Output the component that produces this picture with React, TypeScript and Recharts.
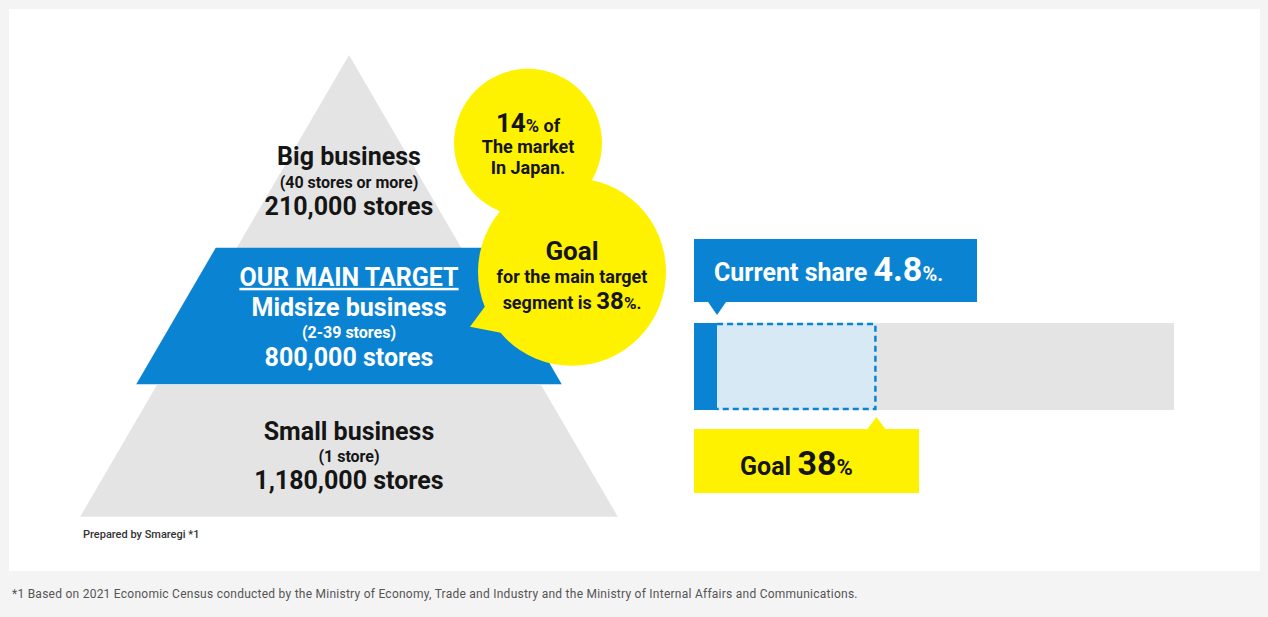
import { BarChart, Bar, XAxis, YAxis } from "recharts";

// pyramid tiers
const tierNames = ["Big business", "Midsize business", "Small business"];
const tierRanges = ["(40 stores or more)", "(2-39 stores)", "(1 store)"];
const tierStores = [210000, 800000, 1180000];

// share of the main target segment (%)
const japanMarketShare = 14;
const currentShare = 4.8;
const goalShare = 38;
const shareTotal = 100;

const BLUE = "#0a84d2";
const YELLOW = "#fff200";
const GRAY = "#e4e4e4";
const LIGHT_BLUE = "#d6e9f5";
const FONT = "Roboto, 'Noto Sans', sans-serif";

const pyramidData = tierNames.map((name, i) => ({
  name,
  range: tierRanges[i],
  stores: tierStores[i],
}));

const shareData = [
  { name: "share", current: currentShare, toGoal: goalShare - currentShare },
];

const fmt = (n: number) => n.toLocaleString("en-US");

// triangle geometry of the pyramid
const APEX_X = 349;
const APEX_Y = 55;
const BASE_Y = 517;
const BASE_HALF = 269;
const BLUE_SHIFT = 3; // blue band sits a little lower than its slot
const halfAt = (yy: number) => ((yy - APEX_Y) / (BASE_Y - APEX_Y)) * BASE_HALF;

const PyramidShape = (props: any) => {
  const { index, y, height, payload } = props;
  const cx = APEX_X;
  const top = y;
  const bottom = y + height;

  if (index === 0) {
    const hb = halfAt(bottom + 2);
    return (
      <g>
        <polygon points={`${cx},${APEX_Y} ${cx + hb},${bottom + 2} ${cx - hb},${bottom + 2}`} fill={GRAY} />
        <text x={cx} y={bottom - 81} textAnchor="middle" fontSize={25} fontWeight={700} fill="#151515">
          {payload.name}
        </text>
        <text x={cx} y={bottom - 58} textAnchor="middle" fontSize={16} fontWeight={700} fill="#151515">
          {payload.range}
        </text>
        <text x={cx} y={bottom - 31} textAnchor="middle" fontSize={25} fontWeight={700} fill="#151515">
          {fmt(payload.stores)} stores
        </text>
      </g>
    );
  }

  if (index === 1) {
    const t = top + 1.5;
    const b = bottom + BLUE_SHIFT;
    const ht = halfAt(t) + 21;
    const hb = halfAt(b) + 21;
    const smallCx = cx + 179;
    const smallCy = t - 105;
    const bigCx = cx + 223;
    const bigCy = t + 24;
    return (
      <g>
        <polygon points={`${cx - ht},${t} ${cx + ht},${t} ${cx + hb},${b} ${cx - hb},${b}`} fill={BLUE} />
        <text x={cx} y={t + 38} textAnchor="middle" fontSize={25} fontWeight={700} fill="#fff" style={{ textDecoration: "underline" }}>
          OUR MAIN TARGET
        </text>
        <text x={cx} y={t + 68} textAnchor="middle" fontSize={25} fontWeight={700} fill="#fff">
          {payload.name}
        </text>
        <text x={cx} y={t + 90} textAnchor="middle" fontSize={16} fontWeight={700} fill="#fff">
          {payload.range}
        </text>
        <text x={cx} y={t + 118} textAnchor="middle" fontSize={25} fontWeight={700} fill="#fff">
          {fmt(payload.stores)} stores
        </text>

        <circle cx={smallCx} cy={smallCy} r={74} fill={YELLOW} />
        <circle cx={bigCx} cy={bigCy} r={94} fill={YELLOW} />
        <polygon points={`${bigCx - 82},${bigCy + 28} ${bigCx - 102},${bigCy + 55} ${bigCx - 66},${bigCy + 62}`} fill={YELLOW} />

        <text x={smallCx} y={smallCy - 11} textAnchor="middle" fontWeight={700} fill="#151515">
          <tspan fontSize={26}>{japanMarketShare}</tspan>
          <tspan fontSize={18}>% of</tspan>
        </text>
        <text x={smallCx} y={smallCy + 10} textAnchor="middle" fontSize={18} fontWeight={700} fill="#151515">
          The market
        </text>
        <text x={smallCx} y={smallCy + 31} textAnchor="middle" fontSize={18} fontWeight={700} fill="#151515">
          In Japan.
        </text>

        <text x={bigCx} y={bigCy - 12} textAnchor="middle" fontSize={26} fontWeight={700} fill="#151515">
          Goal
        </text>
        <text x={bigCx} y={bigCy + 11} textAnchor="middle" fontSize={18} fontWeight={700} fill="#151515">
          for the main target
        </text>
        <text x={bigCx} y={bigCy + 37} textAnchor="middle" fontWeight={700} fill="#151515">
          <tspan fontSize={18}>segment is </tspan>
          <tspan fontSize={24}>{goalShare}</tspan>
          <tspan fontSize={17}>%.</tspan>
        </text>
      </g>
    );
  }

  const t = top + BLUE_SHIFT;
  const ht = halfAt(t);
  const hb = halfAt(bottom);
  return (
    <g>
      <polygon points={`${cx - ht},${t} ${cx + ht},${t} ${cx + hb},${bottom} ${cx - hb},${bottom}`} fill={GRAY} />
      <text x={cx} y={top + 58} textAnchor="middle" fontSize={25} fontWeight={700} fill="#151515">
        {payload.name}
      </text>
      <text x={cx} y={top + 80} textAnchor="middle" fontSize={16} fontWeight={700} fill="#151515">
        {payload.range}
      </text>
      <text x={cx} y={top + 107} textAnchor="middle" fontSize={25} fontWeight={700} fill="#151515">
        {fmt(payload.stores)} stores
      </text>
    </g>
  );
};

const SHARE_LEFT = 54;

const CurrentShape = (props: any) => {
  const { x, y, width, height } = props;
  const tip = x + width;
  const boxTop = y - 84;
  const boxBottom = y - 21;
  return (
    <g>
      <rect x={x} y={y} width={width} height={height} fill={BLUE} />
      <rect x={x} y={boxTop} width={283} height={boxBottom - boxTop} fill={BLUE} />
      <polygon points={`${tip - 9},${boxBottom} ${tip + 9},${boxBottom} ${tip},${boxBottom + 13}`} fill={BLUE} />
      <text x={x + 20} y={boxTop + 42} fill="#fff" fontWeight={700}>
        <tspan fontSize={25}>Current share </tspan>
        <tspan fontSize={34}>{currentShare}</tspan>
        <tspan fontSize={20}>%.</tspan>
      </text>
    </g>
  );
};

const GoalShape = (props: any) => {
  const { x, y, width, height } = props;
  const right = x + width;
  const bottom = y + height;
  const boxTop = bottom + 19;
  const boxBottom = bottom + 83;
  return (
    <g>
      <rect x={x} y={y} width={width} height={height} fill={LIGHT_BLUE} />
      <path
        d={`M${x},${y + 1} L${right - 1},${y + 1} L${right - 1},${bottom - 1} L${x},${bottom - 1}`}
        fill="none"
        stroke={BLUE}
        strokeWidth={2.5}
        strokeDasharray="6 4"
      />
      <rect x={SHARE_LEFT} y={boxTop} width={225} height={boxBottom - boxTop} fill={YELLOW} />
      <polygon points={`${right - 9},${boxTop} ${right + 9},${boxTop} ${right},${bottom + 7}`} fill={YELLOW} />
      <text x={SHARE_LEFT + 46} y={boxTop + 46} fill="#151515" fontWeight={700}>
        <tspan fontSize={25}>Goal </tspan>
        <tspan fontSize={34}>{goalShare}</tspan>
        <tspan fontSize={22}>%</tspan>
      </text>
    </g>
  );
};

export default function App() {
  return (
    <div
      style={{
        position: "absolute",
        left: 0,
        top: 0,
        width: 1268,
        height: 617,
        background: "#f4f4f4",
        fontFamily: FONT,
        overflow: "hidden",
      }}
    >
      <div
        style={{
          position: "absolute",
          left: 9,
          top: 9,
          width: 1251,
          height: 562,
          background: "#fff",
        }}
      />

      <div style={{ position: "absolute", left: 0, top: 0 }}>
        <BarChart
          width={700}
          height={560}
          data={pyramidData}
          layout="vertical"
          margin={{ top: 111, right: 0, bottom: 43, left: 0 }}
          barCategoryGap={0}
          style={{ fontFamily: FONT }}
        >
          <XAxis type="number" hide domain={[0, Math.max(...tierStores)]} />
          <YAxis type="category" dataKey="name" hide />
          <Bar dataKey="stores" shape={PyramidShape} isAnimationActive={false} />
        </BarChart>
      </div>

      <div style={{ position: "absolute", left: 640, top: 200 }}>
        <BarChart
          width={600}
          height={320}
          data={shareData}
          layout="vertical"
          margin={{ top: 123, right: 66, bottom: 110, left: SHARE_LEFT }}
          barCategoryGap={0}
          style={{ fontFamily: FONT }}
        >
          <XAxis type="number" hide domain={[0, shareTotal]} />
          <YAxis type="category" dataKey="name" hide />
          <Bar
            dataKey="current"
            stackId="s"
            background={{ fill: GRAY }}
            shape={CurrentShape}
            isAnimationActive={false}
          />
          <Bar dataKey="toGoal" stackId="s" shape={GoalShape} isAnimationActive={false} />
        </BarChart>
      </div>

      <div
        style={{
          position: "absolute",
          left: 83,
          top: 528,
          fontSize: 11,
          fontWeight: 500,
          color: "#333",
          whiteSpace: "nowrap",
        }}
      >
        Prepared by Smaregi *1
      </div>
      <div
        style={{
          position: "absolute",
          left: 12,
          top: 587,
          fontSize: 12,
          letterSpacing: 0.25,
          color: "#555",
          whiteSpace: "nowrap",
        }}
      >
        *1 Based on 2021 Economic Census conducted by the Ministry of Economy, Trade and Industry and the Ministry of Internal Affairs and Communications.
      </div>
    </div>
  );
}
